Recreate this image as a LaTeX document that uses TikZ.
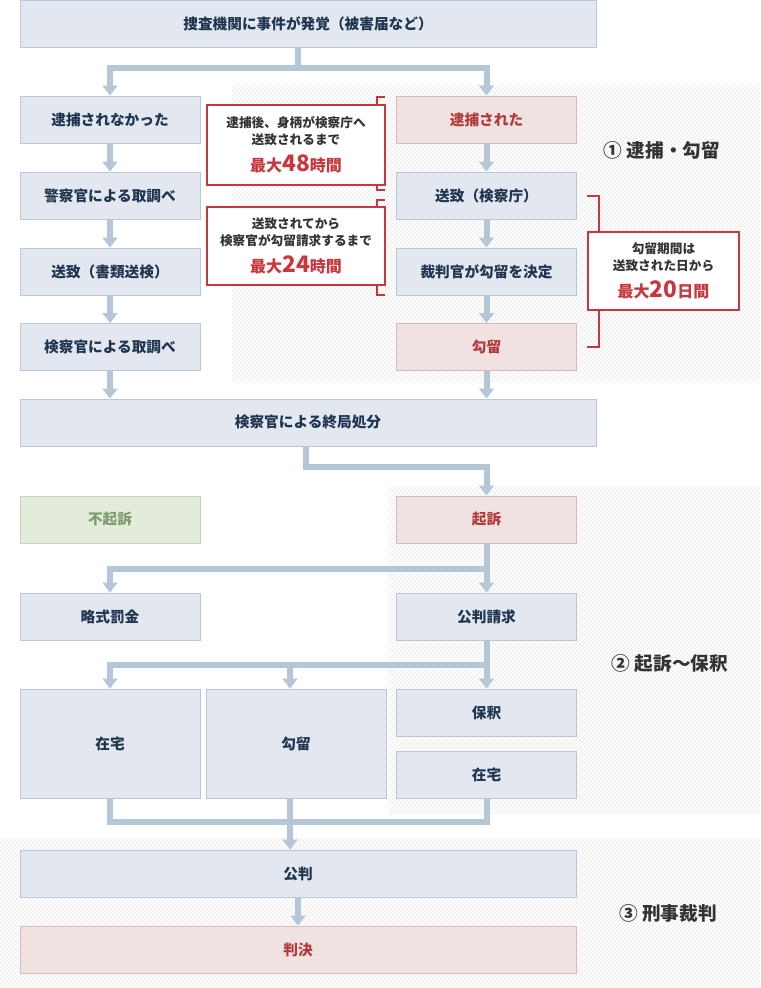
\documentclass[tikz,border=0pt]{standalone}
\usepackage{fontspec}
\setmainfont{Noto Sans CJK JP}
\usetikzlibrary{patterns,arrows.meta}
\definecolor{bfill}{HTML}{E3E8F0}\definecolor{bdraw}{HTML}{B9C8D8}\definecolor{btext}{HTML}{1F3550}
\definecolor{pfill}{HTML}{F1E2E2}\definecolor{pdraw}{HTML}{DDBABA}\definecolor{ptext}{HTML}{B23A3A}
\definecolor{gfill}{HTML}{E3EBDA}\definecolor{gdraw}{HTML}{C2D3B3}\definecolor{gtext}{HTML}{7E9C6C}
\definecolor{arrc}{HTML}{B5C6D6}\definecolor{redc}{HTML}{C8373D}\definecolor{hatch}{HTML}{E6E6E6}
\tikzset{
 bx/.style={draw=bdraw,fill=bfill,text=btext,font=\bfseries\fontsize{11}{12}\selectfont,inner sep=0pt,minimum width=135pt,minimum height=35.25pt,line width=0.6pt},
 pk/.style={bx,draw=pdraw,fill=pfill,text=ptext},
 gr/.style={bx,draw=gdraw,fill=gfill,text=gtext},
 arr/.style={draw=arrc,line width=4.5pt,-{Triangle[width=11pt,length=7.5pt]}},
 ln/.style={draw=arrc,line width=4.5pt},
 call/.style={draw=redc,line width=1.5pt,fill=white,align=center,text=black!80,font=\bfseries\fontsize{9.5}{12.5}\selectfont,inner sep=0pt},
 brk/.style={draw=redc,line width=1.5pt},
 lab/.style={text=black!80,font=\bfseries\fontsize{14}{16}\selectfont},
 hat/.style={pattern=north east lines,pattern color=hatch}
}
\newcommand{\maxval}[2]{{\color{redc}\fontsize{12}{14}\selectfont 最大\fontsize{17}{17}\selectfont #1\fontsize{12}{14}\selectfont #2}}
\begin{document}
\begin{tikzpicture}[x=0.75pt,y=-0.75pt]
\useasboundingbox (0,0) rectangle (760,988);
\fill[white] (0,0) rectangle (760,988);
\fill[hat] (232,85) rectangle (760,382);
\fill[hat] (388,487) rectangle (760,813);
\fill[hat] (0,838) rectangle (760,988);
\node[bx,minimum width=432pt] (t) at (308,23.5) {捜査機関に事件が発覚（被害届など）};
\node[bx] (l1) at (110,119.5) {逮捕されなかった};
\node[bx] (l2) at (110,195.5) {警察官による取調べ};
\node[bx] (l3) at (110,271.5) {送致（書類送検）};
\node[bx] (l4) at (110,347) {検察官による取調べ};
\node[pk] (r1) at (486.5,119.5) {逮捕された};
\node[bx] (r2) at (486.5,195.5) {送致（検察庁）};
\node[bx] (r3) at (486.5,271.5) {裁判官が勾留を決定};
\node[pk] (r4) at (486.5,347) {勾留};
\node[bx,minimum width=432pt] (f) at (308,422.5) {検察官による終局処分};
\node[gr] (n1) at (110,519.5) {不起訴};
\node[pk] (k1) at (486.5,519.5) {起訴};
\node[bx] (s1) at (110,616.5) {略式罰金};
\node[bx] (p1) at (486.5,616.5) {公判請求};
\node[bx,minimum height=81.75pt] (z1) at (110,743.5) {在宅};
\node[bx,minimum height=81.75pt] (g1) at (296,743.5) {勾留};
\node[bx] (h1) at (486.5,712.5) {保釈};
\node[bx] (z2) at (486.5,774.5) {在宅};
\node[bx,minimum width=417pt] (kh) at (298,873.5) {公判};
\node[pk,minimum width=417pt] (hk) at (298,949.5) {判決};
% arrows
\coordinate (j1) at (298,68);
\draw[arr] (t.south -| j1) -- (j1) -| (l1.north);
\draw[arr] (j1) -| (r1.north);
\foreach \a/\b in {l1/l2,l2/l3,l3/l4,r1/r2,r2/r3,r3/r4,k1/p1,p1/h1,kh/hk}{\draw[arr] (\a.south) -- (\b.north);}
\draw[arr] (l4.south) -- (l4.south |- f.north);
\draw[arr] (r4.south) -- (r4.south |- f.north);
\coordinate (j2) at (306,467);
\draw[arr] (f.south -| j2) -- (j2) -| (k1.north);
\coordinate (j3) at (486.5,569);
\draw[arr] (j3) -| (s1.north);
\coordinate (j4) at (486.5,665);
\draw[arr] (j4) -| (z1.north);
\coordinate (j6) at (290,665);
\draw[arr] (j6) -- (j6 |- g1.north);
\coordinate (j5) at (110,822);
\draw[ln] (z1.south) -- (j5) -- (z2.south |- j5) -- (z2.south);
\coordinate (j7) at (290,798);
\draw[arr] (j7) -- (j7 |- kh.north);
% callouts
\draw[brk] (385,97) -- (377,97) -- (377,190) -- (385,190);
\draw[brk] (385,200) -- (377,200) -- (377,295) -- (385,295);
\draw[brk] (587,196) -- (599,196) -- (599,347) -- (587,347);
\node[call,minimum width=133.5pt,minimum height=60pt] (c1) at (296,145) {逮捕後、身柄が検察庁へ\\送致されるまで\\[6pt]\maxval{48}{時間}};
\node[call,minimum width=133.5pt,minimum height=58.5pt] (c2) at (296,246) {送致されてから\\検察官が勾留請求するまで\\[6pt]\maxval{24}{時間}};
\node[call,minimum width=113.25pt,minimum height=58.5pt] (c3) at (663.5,271) {勾留期間は\\送致された日から\\[6pt]\maxval{20}{日間}};
\node[lab] (a1) at (662,150) {① 逮捕・勾留};
\node[lab] (a2) at (670,664) {② 起訴〜保釈};
\node[lab] (a3) at (668,913) {③ 刑事裁判};
\end{tikzpicture}
\end{document}
